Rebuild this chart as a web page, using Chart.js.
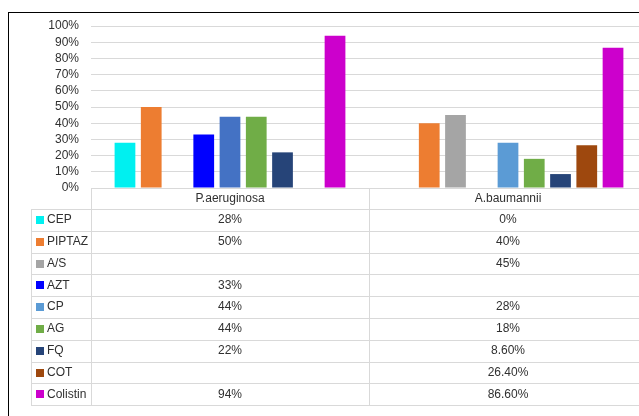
<!DOCTYPE html>
<html>
<head>
<meta charset="utf-8">
<script src="https://cdn.jsdelivr.net/npm/chart.js@4/dist/chart.umd.min.js"></script>
<style>
  html, body { margin: 0; padding: 0; background: #fff; overflow: hidden; }
  body { width: 639px; height: 416px; position: relative; }
  .frame {
    position: absolute; left: 8px; top: 12px; width: 700px; height: 500px;
    border-top: 1px solid #000; border-left: 1px solid #000;
  }
  #wrap { position: absolute; left: 0; top: 0; width: 660px; height: 416px; }
</style>
</head>
<body>
<div class="frame"></div>
<div id="wrap"><canvas id="resistChart"></canvas></div>
<script>
const organisms = ["P.aeruginosa", "A.baumannii"];
const drugs = ["CEP", "PIPTAZ", "A/S", "AZT", "CP", "AG", "FQ", "COT", "Colistin"];

// resistance (%) per drug, [P.aeruginosa, A.baumannii]; null = not tested
const cep = [28, 0];
const piptaz = [50, 40];
const as = [null, 45];
const azt = [33, null];
const cp = [44, 28];
const ag = [44, 18];
const fq = [22, 8.6];
const cot = [null, 26.4];
const colistin = [94, 86.6];

const yTicks = [0, 10, 20, 30, 40, 50, 60, 70, 80, 90, 100];

const seriesValues = [cep, piptaz, as, azt, cp, ag, fq, cot, colistin];
const colors = [
  "#00f0f0", "#ed7d31", "#a5a5a5", "#0000ff", "#5b9bd5",
  "#70ad47", "#264478", "#9e480e", "#cc00cc",
];
// CP bar for P.aeruginosa was filled a darker blue
const barColors = colors.map((c, i) => (drugs[i] === "CP" ? ["#4472c4", c] : c));

const FONT = "'Liberation Sans', Arial, sans-serif";
const TEXT = "#303030";
const LINE = "#d9d9d9";
const ROW_H = 21.8;

function fmt(v) {
  if (v === null || v === undefined) return "";
  return Number.isInteger(v) ? v + "%" : v.toFixed(2) + "%";
}

// data table under the x axis
const dataTable = {
  id: "dataTable",
  afterDraw(chart) {
    const { ctx, chartArea } = chart;
    const x = chart.scales.x;
    const top = chartArea.bottom;
    const headBottom = x.bottom;
    const bottom = headBottom + ROW_H * drugs.length;
    const labelLeft = 31;
    const half = (x.getPixelForValue(1) - x.getPixelForValue(0)) / 2;

    ctx.save();
    ctx.strokeStyle = LINE;
    ctx.lineWidth = 1;
    ctx.beginPath();
    // column borders
    const edges = [chartArea.left];
    organisms.forEach((_, i) => edges.push(x.getPixelForValue(i) + half));
    edges.forEach((ex) => {
      const px = Math.round(ex) + 0.5;
      ctx.moveTo(px, top);
      ctx.lineTo(px, bottom);
    });
    ctx.moveTo(labelLeft + 0.5, headBottom);
    ctx.lineTo(labelLeft + 0.5, bottom);
    // row borders
    for (let r = 0; r <= drugs.length; r++) {
      const py = Math.round(headBottom + r * ROW_H) + 0.5;
      ctx.moveTo(labelLeft, py);
      ctx.lineTo(chartArea.right, py);
    }
    ctx.stroke();

    ctx.font = "12px " + FONT;
    ctx.textBaseline = "middle";
    drugs.forEach((name, r) => {
      const cy = headBottom + r * ROW_H + ROW_H / 2;
      ctx.fillStyle = colors[r];
      ctx.fillRect(36, Math.round(cy - 4), 8, 8);
      ctx.fillStyle = TEXT;
      ctx.textAlign = "left";
      ctx.fillText(name, 47, cy);
      ctx.textAlign = "center";
      organisms.forEach((_, c) => {
        ctx.fillText(fmt(seriesValues[r][c]), x.getPixelForValue(c), cy);
      });
    });
    ctx.restore();
  },
};

const ctx = document.getElementById("resistChart").getContext("2d");
new Chart(ctx, {
  type: "bar",
  data: {
    labels: organisms,
    datasets: drugs.map((name, i) => ({
      label: name,
      data: seriesValues[i],
      backgroundColor: barColors[i],
      borderWidth: 0,
      categoryPercentage: 0.85,
      barPercentage: 0.79,
    })),
  },
  options: {
    responsive: true,
    maintainAspectRatio: false,
    animation: false,
    layout: { padding: { left: 30, top: 26, right: 13, bottom: 207 } },
    plugins: {
      legend: { display: false },
      tooltip: { enabled: false },
    },
    scales: {
      y: {
        min: 0,
        max: 100,
        afterBuildTicks(scale) {
          scale.ticks = yTicks.map((v) => ({ value: v }));
        },
        afterFit(scale) { scale.width = 61; },
        border: { display: false },
        grid: { color: LINE, drawTicks: false },
        ticks: {
          autoSkip: false,
          padding: 12,
          color: TEXT,
          font: { family: FONT, size: 12 },
          callback: (v) => v + "%",
        },
      },
      x: {
        afterFit(scale) { scale.height = 21; },
        border: { display: false },
        grid: { display: false, drawTicks: false },
        ticks: {
          padding: 3,
          color: TEXT,
          font: { family: FONT, size: 12 },
        },
      },
    },
  },
  plugins: [dataTable],
});
</script>
</body>
</html>
